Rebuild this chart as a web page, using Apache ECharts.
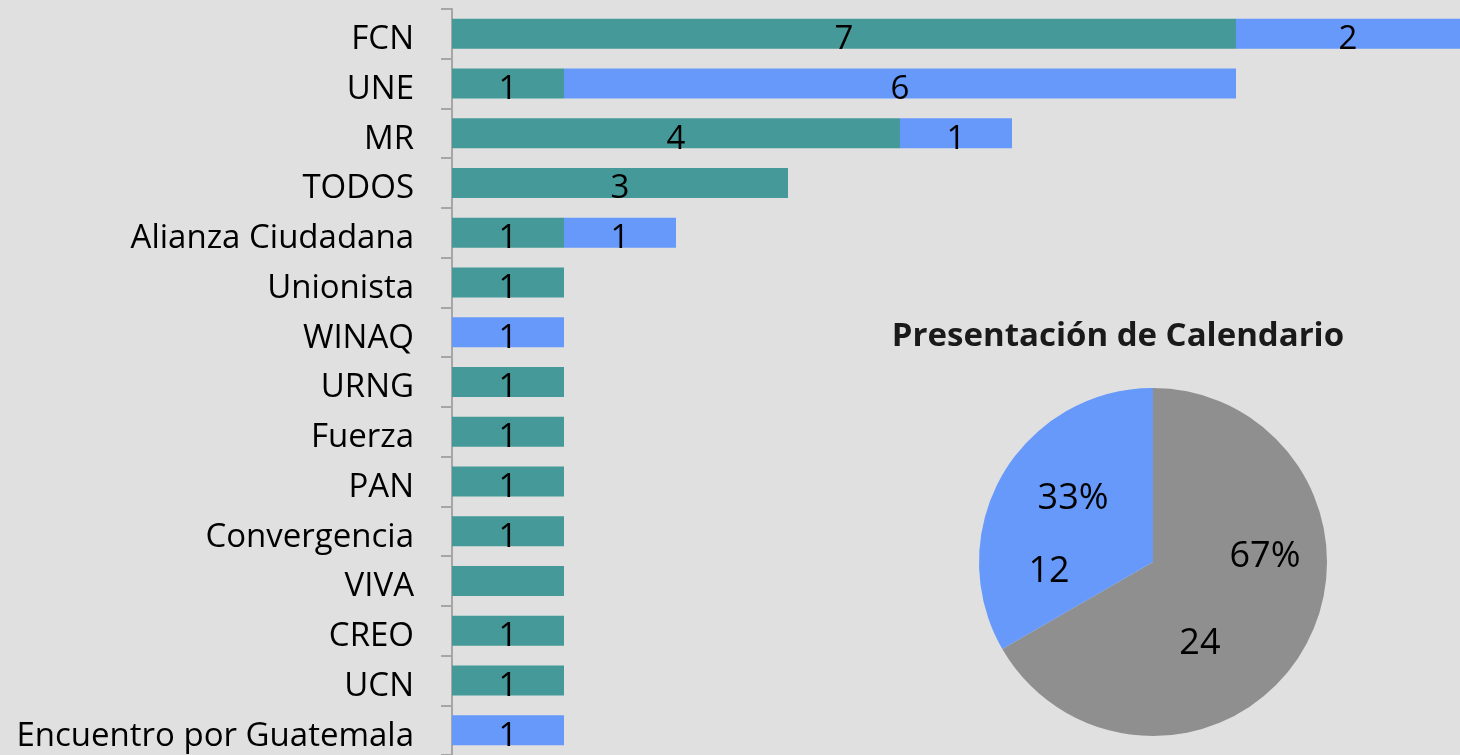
<!DOCTYPE html>
<html>
<head>
<meta charset="utf-8">
<script src="https://cdn.jsdelivr.net/npm/echarts@6/dist/echarts.min.js"></script>
<style>
  html, body { margin: 0; padding: 0; background: #E0E0E0; }
  #chart { width: 1460px; height: 755px; }
</style>
</head>
<body>
<div id="chart"></div>
<script>
// partidos (eje vertical)
const categories = ['FCN', 'UNE', 'MR', 'TODOS', 'Alianza Ciudadana', 'Unionista', 'WINAQ', 'URNG',
  'Fuerza', 'PAN', 'Convergencia', 'VIVA', 'CREO', 'UCN', 'Encuentro por Guatemala'];
const tealValues = [7, 1, 4, 3, 1, 1, 0, 1, 1, 1, 1, 1, 1, 1, 0];
const blueValues = [2, 6, 1, 0, 1, 0, 1, 0, 0, 0, 0, 0, 0, 0, 1];
const noLabel = ['VIVA']; // barra sin etiqueta en el original

const pieTitle = 'Presentación de Calendario';
const pieNames = ['No', 'Sí'];
const pieValues = [24, 12];

const TEAL = '#459A99';
const BLUE = '#6699FA';
const GRAY = '#8F8F8F';
const FONT = 'Open Sans';

function barData(values) {
  return values.map((v, i) => noLabel.includes(categories[i])
    ? { value: v, label: { show: false } }
    : v);
}

const barLabel = {
  show: true,
  position: 'inside',
  color: '#000',
  fontFamily: FONT,
  fontSize: 33,
  offset: [0, 6],
  formatter: p => (p.value ? p.value : '')
};

const myChart = echarts.init(document.getElementById('chart'));

let option = {
  backgroundColor: '#E0E0E0',
  animation: false,
  title: {
    text: pieTitle,
    left: 1113,
    top: 315,
    textAlign: 'center',
    textStyle: { fontFamily: FONT, fontSize: 33, fontWeight: 'bold', color: '#1a1a1a' }
  },
  grid: { left: 452, right: 0, top: 9, height: 749, containLabel: false },
  xAxis: { type: 'value', min: 0, max: 9, show: false },
  yAxis: {
    type: 'category',
    data: categories,
    inverse: true,
    axisLine: { show: true, lineStyle: { color: '#A6A6A6', width: 2 } },
    axisTick: { show: true, length: 11, lineStyle: { color: '#A6A6A6', width: 2 } },
    axisLabel: {
      margin: 38,
      formatter: v => '{a|' + v + '}',
      rich: { a: { color: '#000', fontFamily: FONT, fontSize: 33, padding: [12, 0, 0, 0] } }
    }
  },
  series: [
    {
      name: 'Sin calendario',
      type: 'bar',
      stack: 'total',
      barWidth: 30,
      itemStyle: { color: TEAL },
      label: barLabel,
      data: barData(tealValues)
    },
    {
      name: 'Con calendario',
      type: 'bar',
      stack: 'total',
      barWidth: 30,
      itemStyle: { color: BLUE },
      label: barLabel,
      data: barData(blueValues)
    },
    {
      // porcentajes
      type: 'pie',
      center: [1153, 562],
      radius: 174,
      startAngle: 90,
      clockwise: true,
      color: [GRAY, BLUE],
      label: {
        show: true, position: 'inside',
        formatter: p => Math.round(p.percent) + '%',
        color: '#000', fontFamily: FONT, fontSize: 36
      },
      labelLayout: p => (p.dataIndex === 0 ? { dx: 34, dy: -50 } : { dx: -2, dy: -18 }),
      labelLine: { show: false },
      data: pieValues.map((v, i) => ({ name: pieNames[i], value: v }))
    },
    {
      // valores
      type: 'pie',
      center: [1153, 562],
      radius: 174,
      startAngle: 90,
      clockwise: true,
      silent: true,
      itemStyle: { color: 'transparent' },
      label: {
        show: true, position: 'inside', formatter: '{c}',
        color: '#000', fontFamily: FONT, fontSize: 36
      },
      labelLayout: p => (p.dataIndex === 0 ? { dx: -31, dy: 37 } : { dx: -26, dy: 55 }),
      labelLine: { show: false },
      data: pieValues.map((v, i) => ({ name: pieNames[i], value: v }))
    }
  ]
};

myChart.setOption(option);
</script>
</body>
</html>
